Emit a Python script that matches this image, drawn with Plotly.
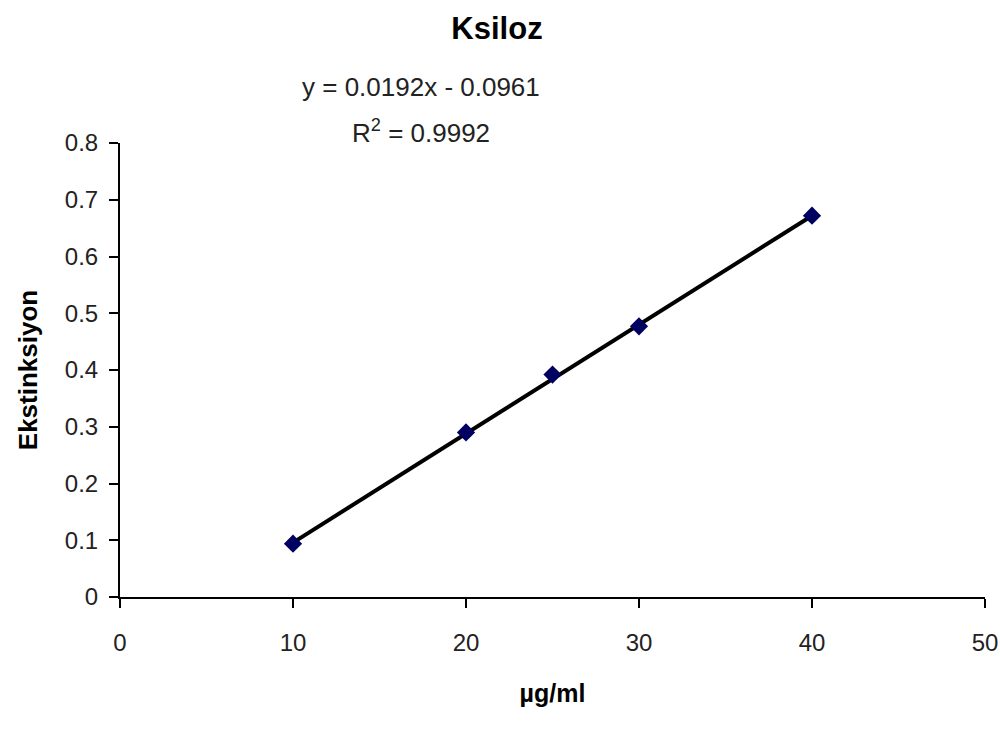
import plotly.graph_objects as go

# Data
conc = [10, 20, 25, 30, 40]
absorb = [0.094, 0.290, 0.392, 0.477, 0.672]
slope = 0.0192
intercept = -0.0961
x_ticks = [0, 10, 20, 30, 40, 50]
y_ticks = [0, 0.1, 0.2, 0.3, 0.4, 0.5, 0.6, 0.7, 0.8]
y_tick_text = ["0", "0.1", "0.2", "0.3", "0.4", "0.5", "0.6", "0.7", "0.8"]

fit_x = [min(conc), max(conc)]
fit_y = [slope * v + intercept for v in fit_x]

FONT = "Liberation Sans, Arial, sans-serif"

fig = go.Figure()
fig.add_trace(go.Scatter(x=fit_x, y=fit_y, mode="lines",
                         line=dict(color="black", width=4),
                         showlegend=False, hoverinfo="skip"))
fig.add_trace(go.Scatter(x=conc, y=absorb, mode="markers",
                         marker=dict(symbol="diamond", size=14, color="#000060"),
                         showlegend=False))

fig.update_layout(
    width=1000, height=733,
    margin=dict(l=120, r=15, t=143, b=136),
    paper_bgcolor="white", plot_bgcolor="white",
    font=dict(family=FONT, color="black"),
    title=dict(text="<b>Ksiloz</b>", x=0.497, xanchor="center", y=1 - 28 / 733,
               yanchor="middle", font=dict(size=31, family=FONT)),
    xaxis=dict(range=[0, 50], tickvals=x_ticks, showgrid=False, zeroline=False,
               showline=True, linecolor="black", linewidth=2, automargin=False,
               ticks="outside", ticklen=9, tickwidth=2, tickcolor="black",
               ticklabelstandoff=14,
               tickfont=dict(size=24, family=FONT, color="#222"),
               title=dict(text="<b>µg/ml</b>", font=dict(size=25, family=FONT), standoff=30)),
    yaxis=dict(range=[0, 0.8], tickvals=y_ticks, ticktext=y_tick_text, showgrid=False,
               zeroline=False, showline=True, linecolor="black", linewidth=2, automargin=False,
               ticks="outside", ticklen=9, tickwidth=2, tickcolor="black",
               ticklabelstandoff=6,
               tickfont=dict(size=24, family=FONT, color="#222"),
               title=dict(text="<b>Ekstinksiyon</b>", font=dict(size=26, family=FONT), standoff=20)),
)

fig.add_annotation(text="y = 0.0192x - 0.0961", xref="paper", yref="paper",
                   x=(421 - 120) / 865, y=(597 - 87) / 454, xanchor="center", yanchor="middle",
                   showarrow=False, font=dict(size=26, family=FONT, color="#222"))
fig.add_annotation(text="R<sup>2</sup> = 0.9992", xref="paper", yref="paper",
                   x=(421 - 120) / 865, y=(597 - 132) / 454, xanchor="center", yanchor="middle",
                   showarrow=False, font=dict(size=26, family=FONT, color="#222"))

fig.write_html("out.html")
